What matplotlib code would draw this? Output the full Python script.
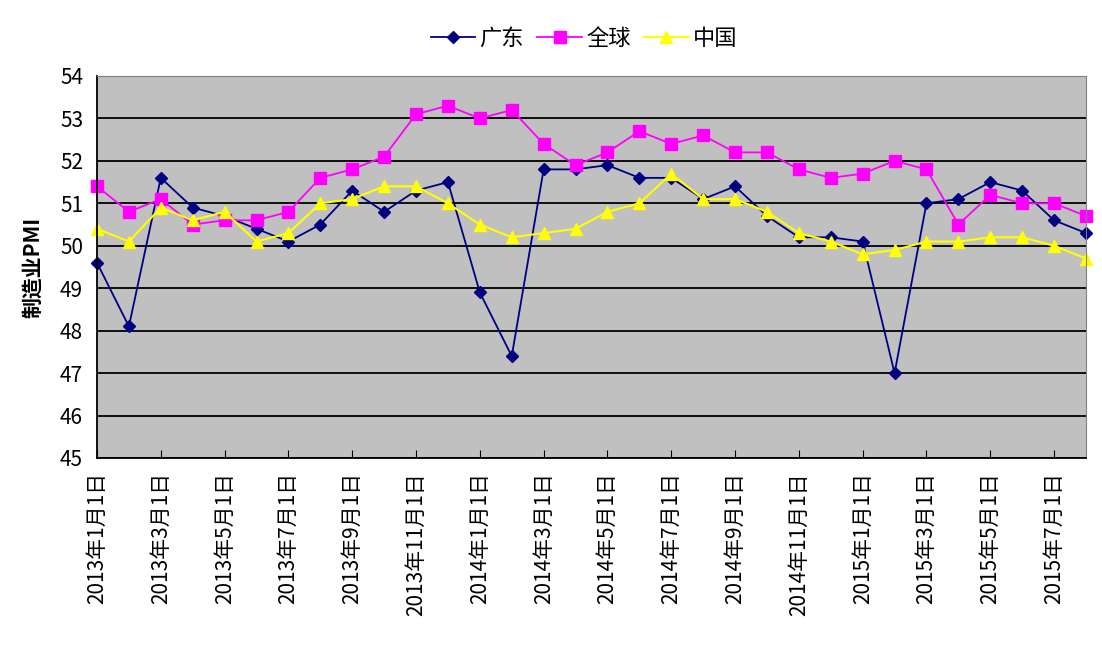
import matplotlib
matplotlib.use("Agg")
import matplotlib.pyplot as plt

plt.rcParams['font.family'] = ['Noto Sans CJK SC', 'DejaVu Sans']

# months from 2013-01 to 2015-08
months = []
for y in (2013, 2014, 2015):
    for m in range(1, 13):
        if y == 2015 and m > 8:
            break
        months.append((y, m))

guangdong = [49.6, 48.1, 51.6, 50.9, 50.7, 50.4, 50.1, 50.5, 51.3, 50.8, 51.3, 51.5,
             48.9, 47.4, 51.8, 51.8, 51.9, 51.6, 51.6, 51.1, 51.4, 50.7, 50.2, 50.2,
             50.1, 47.0, 51.0, 51.1, 51.5, 51.3, 50.6, 50.3]
world = [51.4, 50.8, 51.1, 50.5, 50.6, 50.6, 50.8, 51.6, 51.8, 52.1, 53.1, 53.3,
         53.0, 53.2, 52.4, 51.9, 52.2, 52.7, 52.4, 52.6, 52.2, 52.2, 51.8, 51.6,
         51.7, 52.0, 51.8, 50.5, 51.2, 51.0, 51.0, 50.7]
china = [50.4, 50.1, 50.9, 50.6, 50.8, 50.1, 50.3, 51.0, 51.1, 51.4, 51.4, 51.0,
         50.5, 50.2, 50.3, 50.4, 50.8, 51.0, 51.7, 51.1, 51.1, 50.8, 50.3, 50.1,
         49.8, 49.9, 50.1, 50.1, 50.2, 50.2, 50.0, 49.7]

x = list(range(len(months)))
tick_pos = x[::2]
tick_labels = [f"{y}年{m}月1日" for (y, m) in months[::2]]

fig = plt.figure(figsize=(11.02, 6.57), dpi=100)
ax = fig.add_axes([97/1102, 1 - 458/657, (1086 - 97)/1102, (458 - 76)/657])
ax.set_facecolor('#C0C0C0')

l1, = ax.plot(x, guangdong, color='#000080', marker='D', markersize=6, linewidth=1.3, label='广东')
l2, = ax.plot(x, world, color='#FF00FF', marker='s', markersize=9, linewidth=1.3, label='全球')
l3, = ax.plot(x, china, color='#FFFF00', marker='^', markersize=9, linewidth=1.5, label='中国')

ax.set_xlim(0, len(x) - 1)
ax.set_ylim(45, 54)
ax.set_yticks(range(45, 55))
ax.yaxis.grid(True, color='black', linewidth=1.3)
ax.set_axisbelow(True)
ax.set_xticks(tick_pos)
ax.set_xticklabels(tick_labels, rotation=90, fontsize=15)
ax.tick_params(axis='y', labelsize=15, length=0, pad=10)
ax.tick_params(axis='x', direction='in', length=6, color='black', pad=10)

for side in ('top', 'right'):
    ax.spines[side].set_color('#808080')
for side in ('left', 'bottom'):
    ax.spines[side].set_color('black')
    ax.spines[side].set_linewidth(1.3)
for s in ax.spines.values():
    s.set_zorder(5)

ax.set_ylabel('制造业PMI', fontsize=15, fontweight='bold', labelpad=12)
for line in (l1, l2, l3):
    line.set_clip_on(False)

fig.legend(handles=[l1, l2, l3], loc='upper center', bbox_to_anchor=(0.53, 0.99),
           ncol=3, frameon=False, fontsize=16, handlelength=2.0, handletextpad=0.2,
           columnspacing=0.6)

fig.savefig('out.png', dpi=100)
